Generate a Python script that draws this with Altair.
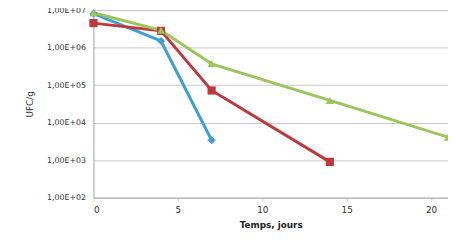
import altair as alt
import pandas as pd

days_blue = [0, 4, 7]
ufc_blue = [8.0e6, 1.5e6, 3.4e3]
days_red = [0, 4, 7, 14]
ufc_red = [4.5e6, 2.8e6, 7.2e4, 9.0e2]
days_green = [0, 4, 7, 14, 21]
ufc_green = [8.5e6, 2.9e6, 3.7e5, 3.9e4, 4.1e3]

series = ["A", "B", "C"]
colors = ["#3d9fd6", "#c0383b", "#9cc65a"]
shapes = ["diamond", "square", "triangle-up"]

rows = []
for s, d, v in zip(series, [days_blue, days_red, days_green], [ufc_blue, ufc_red, ufc_green]):
    for x, y in zip(d, v):
        rows.append({"serie": s, "jour": x, "ufc": y})
df = pd.DataFrame(rows)

x = alt.X("jour:Q", title="Temps, jours",
          scale=alt.Scale(domain=[0, 21], nice=False, zero=False),
          axis=alt.Axis(values=[0, 5, 10, 15, 20], grid=False, domain=True,
                        domainColor="#b0b0b0", tickColor="#d0d0d0", tickSize=4,
                        labelFont="DejaVu Sans", labelFontSize=9, labelColor="#333333",
                        labelPadding=4, titleFont="DejaVu Sans", titleFontSize=9,
                        titleFontWeight="bold", titleColor="#222222", titlePadding=6))
y = alt.Y("ufc:Q", title="UFC/g",
          scale=alt.Scale(type="log", domain=[1e2, 1e7], nice=False),
          axis=alt.Axis(values=[1e2, 1e3, 1e4, 1e5, 1e6, 1e7], grid=True,
                        gridColor="#c8c8c8", gridWidth=1, domain=True, domainColor="#b0b0b0",
                        ticks=False, labelPadding=8,
                        labelExpr="'1,00E+0' + round(log(datum.value)/LN10)",
                        labelFont="DejaVu Sans", labelFontSize=8, labelColor="#333333",
                        titleFont="DejaVu Sans", titleFontSize=9, titleColor="#333333",
                        titleFontWeight="normal", titlePadding=12))
color = alt.Color("serie:N", scale=alt.Scale(domain=series, range=colors), legend=None)
shape = alt.Shape("serie:N", scale=alt.Scale(domain=series, range=shapes), legend=None)

lines = alt.Chart(df).mark_line(strokeWidth=3).encode(x=x, y=y, color=color, detail="serie:N")
points = alt.Chart(df).mark_point(filled=True, size=70, opacity=1).encode(
    x=x, y=y, color=color, shape=shape)

chart = (lines + points).properties(
    width=361, height=191,
    autosize=alt.AutoSizeParams(type="none"),
    padding={"left": 87, "top": 0, "right": 0, "bottom": 43},
).configure_view(stroke=None).configure(background="white")

chart.save("out.html", embed_options={"renderer": "svg", "actions": False})
